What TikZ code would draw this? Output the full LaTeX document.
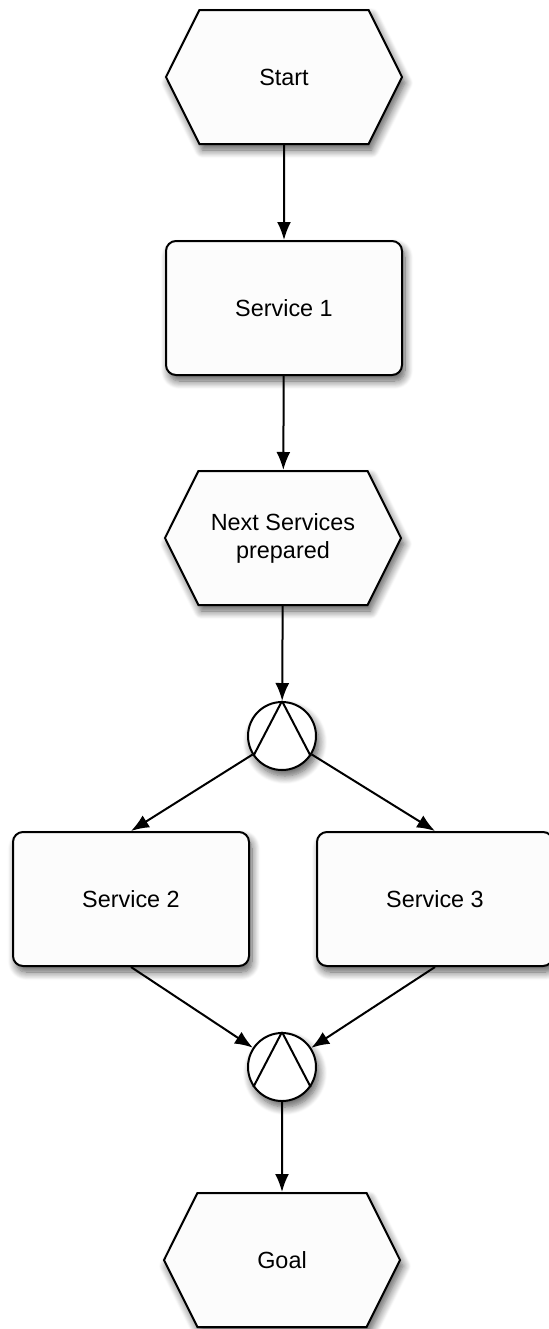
\documentclass[tikz,border=0pt]{standalone}
\usepackage{fontspec}
\setmainfont{Liberation Sans}
\usetikzlibrary{arrows.meta,shapes.symbols,shadows.blur}

\begin{document}
\begin{tikzpicture}[x=0.5pt, y=-0.5pt,
    shade/.style={blur shadow={shadow xshift=1.5pt, shadow yshift=-3pt, shadow opacity=65, shadow blur steps=10, shadow blur radius=4pt}},
    event/.style={signal, signal to=west and east, signal pointer angle=127, draw, line width=1pt, fill=white!99!black, minimum width=118pt, minimum height=67pt, inner sep=0pt, align=center, font=\fontsize{11.7}{14}\selectfont, shade},
    func/.style={rectangle, rounded corners=5pt, draw, line width=1pt, fill=white!99!black, minimum width=118pt, minimum height=67pt, align=center, font=\fontsize{11.7}{14}\selectfont, shade},
    andop/.style={circle, draw, line width=1pt, fill=white, minimum size=34pt, inner sep=0pt, shade},
    flow/.style={line width=1pt, -{Latex[length=9pt,width=7pt]}}]

    \useasboundingbox (0,0) rectangle (548,1329);

    \node[event] (E1) at (284,77) {Start};
    \node[func] (F1) at (284,308) {Service 1};
    \node[event] (E2) at (283,538) {Next Services\\prepared};

    \node[andop] (J1) at (282,736) {};
    \draw[line width=1pt] (J1.north) -- (J1.215) (J1.north) -- (J1.325);

    \node[func] (F2) at (131,899) {Service 2};
    \node[func] (F3) at (435,899) {Service 3};

    \node[andop] (J2) at (282,1067) {};
    \draw[line width=1pt] (J2.north) -- (J2.215) (J2.north) -- (J2.325);

    \node[event] (E3) at (282,1260) {Goal};

    \draw[flow] (E1) -- (F1);
    \draw[flow] (F1) -- (E2);
    \draw[flow] (E2) -- (J1);
    \draw[flow] (J1) -- (F2.north);
    \draw[flow] (J1) -- (F3.north);
    \draw[flow] (F2.south) -- (J2);
    \draw[flow] (F3.south) -- (J2);
    \draw[flow] (J2) -- (E3);

\end{tikzpicture}
\end{document}
